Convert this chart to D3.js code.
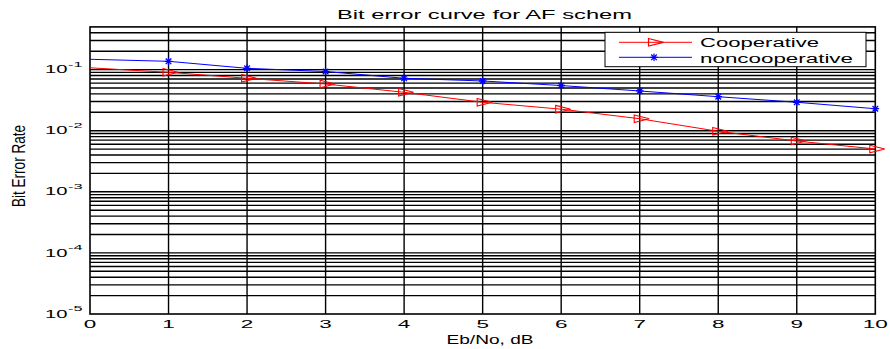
<!DOCTYPE html>
<html>
<head>
<meta charset="utf-8">
<script src="https://cdn.jsdelivr.net/npm/d3@7"></script>
<style>
  html, body { margin: 0; padding: 0; background: #fff; }
  svg { display: block; font-family: "Liberation Sans", Arial, sans-serif; }
</style>
</head>
<body>
<svg id="chart" width="890" height="349"></svg>
<script>
// ---- data ----
const ebNo = [0, 1, 2, 3, 4, 5, 6, 7, 8, 9, 10];
const cooperative = [0.107, 0.0903, 0.0721, 0.0581, 0.0425, 0.0292, 0.0225, 0.0157, 0.00977, 0.00678, 0.00502];
const noncooperative = [0.1475, 0.1367, 0.105, 0.0931, 0.0721, 0.0651, 0.0549, 0.0447, 0.0360, 0.0292, 0.0229];
const xTicks = [0, 1, 2, 3, 4, 5, 6, 7, 8, 9, 10];
const yDecades = [1e-5, 1e-4, 1e-3, 1e-2, 1e-1];
const yExponents = ["-5", "-4", "-3", "-2", "-1"];
const seriesNames = ["Cooperative", "noncooperative"];
const titleText = "Bit error curve for AF schem";
const xLabel = "Eb/No, dB";
const yLabel = "Bit Error Rate";

// ---- layout ----
const svg = d3.select("#chart");
const plotLeft = 90, plotRight = 875.3, plotTop = 26.9, plotBottom = 314;
const x = d3.scaleLinear().domain([0, 10]).range([plotLeft, plotRight]);
const y = d3.scaleLog().domain([1e-5, 0.5]).range([plotBottom, plotTop]);

// grid values (minor log lines)
const minorVals = [];
for (let e = -5; e <= -1; e++) {
  for (let m = 1; m <= 9; m++) {
    const v = m * Math.pow(10, e);
    if (v > 1e-5 && v < 0.5) minorVals.push(v);
  }
}

const grid = svg.append("g");
grid.selectAll("line.h").data(minorVals).join("line")
  .attr("class", "h")
  .attr("x1", plotLeft).attr("x2", plotRight)
  .attr("y1", d => y(d)).attr("y2", d => y(d))
  .attr("stroke", "#000").attr("stroke-width", 1.4);
grid.selectAll("line.v").data(xTicks.slice(1, -1)).join("line")
  .attr("class", "v")
  .attr("y1", plotTop).attr("y2", plotBottom)
  .attr("x1", d => x(d)).attr("x2", d => x(d))
  .attr("stroke", "#000").attr("stroke-width", 1.4);

// frame
svg.append("rect")
  .attr("x", plotLeft).attr("y", plotTop)
  .attr("width", plotRight - plotLeft).attr("height", plotBottom - plotTop)
  .attr("fill", "none").attr("stroke", "#000").attr("stroke-width", 1.6);

// series
const coopData = ebNo.map((v, i) => ({ x: v, y: cooperative[i] }));
const nonData = ebNo.map((v, i) => ({ x: v, y: noncooperative[i] }));
const line = d3.line().x(d => x(d.x)).y(d => y(d.y));

const triPath = "M-5.5,-3.8L9.5,0L-5.5,3.8Z";
const starPath = "M-3.8,0H3.8M0,-3.8V3.8M-2.8,-2.8L2.8,2.8M-2.8,2.8L2.8,-2.8";

svg.append("path").datum(nonData).attr("d", line)
  .attr("fill", "none").attr("stroke", "#0000ff").attr("stroke-width", 1);
svg.append("path").datum(coopData).attr("d", line)
  .attr("fill", "none").attr("stroke", "#ff0000").attr("stroke-width", 1);

svg.selectAll("path.star").data(nonData.filter(d => d.x > 0)).join("path")
  .attr("class", "star")
  .attr("transform", d => `translate(${x(d.x)},${y(d.y)})`)
  .attr("d", starPath).attr("fill", "none").attr("stroke", "#0000ff").attr("stroke-width", 1.3);
svg.selectAll("path.tri").data(coopData.filter(d => d.x > 0)).join("path")
  .attr("class", "tri")
  .attr("transform", d => `translate(${x(d.x)},${y(d.y)})`)
  .attr("d", triPath).attr("fill", "none").attr("stroke", "#ff0000").attr("stroke-width", 1.1);

// x tick labels
svg.selectAll("text.xt").data(xTicks).join("text")
  .attr("class", "xt")
  .attr("x", d => x(d)).attr("y", 327.7)
  .attr("text-anchor", "middle")
  .attr("font-size", 10)
  .attr("textLength", d => String(d).length * 12.5)
  .attr("lengthAdjust", "spacingAndGlyphs")
  .text(d => d);

// y tick labels
svg.selectAll("text.yb").data(yDecades).join("text")
  .attr("class", "yb")
  .attr("x", 45).attr("y", d => y(d) + 3.6)
  .attr("font-size", 10.5)
  .attr("textLength", 22.5)
  .attr("lengthAdjust", "spacingAndGlyphs")
  .text("10");
svg.selectAll("text.ye").data(yDecades).join("text")
  .attr("class", "ye")
  .attr("x", 68).attr("y", d => y(d) - 3)
  .attr("font-size", 8)
  .attr("textLength", 14.5)
  .attr("lengthAdjust", "spacingAndGlyphs")
  .text((d, i) => yExponents[i]);

// title
svg.append("text")
  .attr("x", 337).attr("y", 19)
  .attr("font-size", 12.5)
  .attr("textLength", 295)
  .attr("lengthAdjust", "spacingAndGlyphs")
  .text(titleText);

// x label
svg.append("text")
  .attr("x", 490).attr("y", 344)
  .attr("text-anchor", "middle")
  .attr("font-size", 12.5)
  .attr("textLength", 87)
  .attr("lengthAdjust", "spacingAndGlyphs")
  .text(xLabel);

// y label
svg.append("text")
  .attr("transform", "translate(25,166) rotate(-90)")
  .attr("text-anchor", "middle")
  .attr("font-size", 19)
  .attr("textLength", 82)
  .attr("lengthAdjust", "spacingAndGlyphs")
  .text(yLabel);

// legend
const lg = svg.append("g");
lg.append("rect")
  .attr("x", 605).attr("y", 32.3).attr("width", 261).attr("height", 34.4)
  .attr("fill", "#fff").attr("stroke", "#000").attr("stroke-width", 1);
const legendItems = [
  { name: seriesNames[0], color: "#ff0000", marker: triPath, ly: 42.3, ty: 47.3, len: 119 },
  { name: seriesNames[1], color: "#0000ff", marker: starPath, ly: 57.3, ty: 62.6, len: 153 }
];
legendItems.forEach(it => {
  lg.append("line").attr("x1", 619).attr("x2", 692).attr("y1", it.ly).attr("y2", it.ly)
    .attr("stroke", it.color).attr("stroke-width", 1);
  lg.append("path").attr("d", it.marker).attr("transform", `translate(654,${it.ly})`)
    .attr("fill", "none").attr("stroke", it.color).attr("stroke-width", 1.2);
  lg.append("text").attr("x", 700).attr("y", it.ty)
    .attr("font-size", 12.5)
    .attr("textLength", it.len)
    .attr("lengthAdjust", "spacingAndGlyphs")
    .text(it.name);
});
</script>
</body>
</html>
